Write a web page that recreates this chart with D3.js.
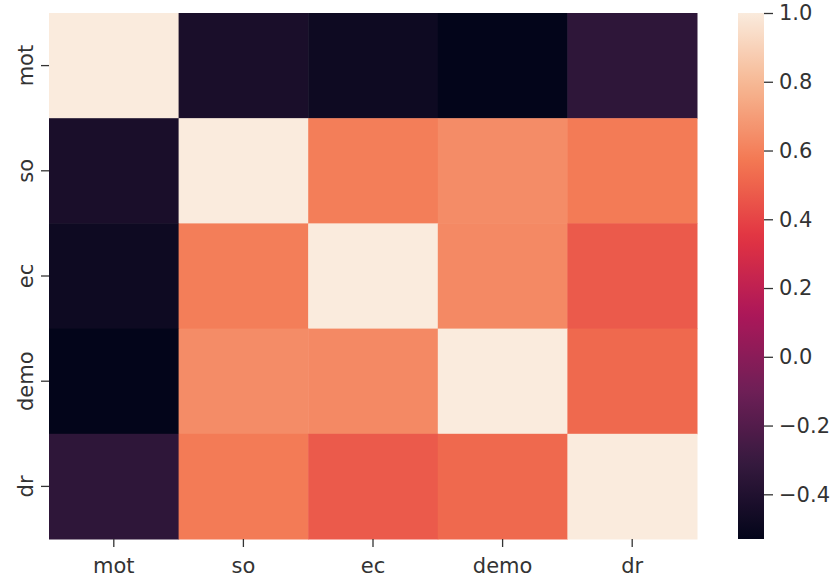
<!DOCTYPE html>
<html>
<head>
<meta charset="utf-8">
<script src="https://cdn.jsdelivr.net/npm/d3@7"></script>
<style>
  body { margin: 0; background: #fff; }
  text { font-family: "DejaVu Sans", sans-serif; }
</style>
</head>
<body>
<div id="chart"></div>
<script>
// Variable names (rows and columns of the correlation matrix)
const labels = ["mot", "so", "ec", "demo", "dr"];

// Correlation values, one array per row
const motRow = [1.0, -0.43, -0.48, -0.53, -0.34];
const soRow = [-0.43, 1.0, 0.59, 0.64, 0.58];
const ecRow = [-0.48, 0.59, 1.0, 0.63, 0.47];
const demoRow = [-0.53, 0.64, 0.63, 1.0, 0.52];
const drRow = [-0.34, 0.58, 0.47, 0.52, 1.0];
const matrix = [motRow, soRow, ecRow, demoRow, drRow];

// Colorbar tick values
const cbarTicks = [1.0, 0.8, 0.6, 0.4, 0.2, 0.0, -0.2, -0.4];

// seaborn "rocket" colormap anchors
const rocketStops = ["#03051a", "#35193e", "#701f57", "#ad1759", "#e13342", "#f37651", "#f6b48f", "#faebdd"];

const width = 840, height = 584;
const margin = { top: 13, left: 49 };
const heatW = 648, heatH = 526;

const svg = d3.select("#chart")
  .append("svg")
  .attr("width", width)
  .attr("height", height);

// Flatten the matrix into cells
const cells = [];
matrix.forEach((row, i) => {
  row.forEach((v, j) => cells.push({ row: labels[i], col: labels[j], value: v }));
});

const vmin = d3.min(cells, d => d.value);
const vmax = d3.max(cells, d => d.value);

const rocket = d3.scaleLinear()
  .domain(rocketStops.map((_, i) => i / (rocketStops.length - 1)))
  .range(rocketStops)
  .interpolate(d3.interpolateRgb);

const color = v => rocket((v - vmin) / (vmax - vmin));

const x = d3.scaleBand().domain(labels).range([margin.left, margin.left + heatW]);
const y = d3.scaleBand().domain(labels).range([margin.top, margin.top + heatH]);

// Heatmap cells
svg.append("g")
  .selectAll("rect")
  .data(cells)
  .enter()
  .append("rect")
  .attr("x", d => x(d.col))
  .attr("y", d => y(d.row))
  .attr("width", x.bandwidth() + 0.5)
  .attr("height", y.bandwidth() + 0.5)
  .attr("fill", d => color(d.value));

const fontSize = 21;
const textColor = "#333";

// X axis
const xAxis = svg.append("g")
  .attr("transform", `translate(0,${margin.top + heatH})`)
  .call(d3.axisBottom(x).tickSize(8).tickPadding(11));
xAxis.select(".domain").remove();
xAxis.selectAll("line").attr("stroke", textColor).attr("stroke-width", 1.3);
xAxis.selectAll("text")
  .attr("font-size", fontSize)
  .attr("font-family", "DejaVu Sans")
  .attr("fill", textColor);

// Y axis with rotated labels
const yAxis = svg.append("g")
  .attr("transform", `translate(${margin.left},0)`)
  .call(d3.axisLeft(y).tickSize(8));
yAxis.select(".domain").remove();
yAxis.selectAll("line").attr("stroke", textColor).attr("stroke-width", 1.3);
yAxis.selectAll("text")
  .attr("x", null)
  .attr("dy", null)
  .attr("text-anchor", "middle")
  .attr("transform", "translate(-16,0) rotate(-90)")
  .attr("font-size", fontSize)
  .attr("font-family", "DejaVu Sans")
  .attr("fill", textColor);

// Colorbar
const cbX = 738, cbW = 26;
const cbScale = d3.scaleLinear().domain([vmin, vmax]).range([margin.top + heatH, margin.top]);

const defs = svg.append("defs");
const grad = defs.append("linearGradient")
  .attr("id", "cbar")
  .attr("x1", 0).attr("y1", 1).attr("x2", 0).attr("y2", 0);
d3.range(0, 1.0001, 0.02).forEach(t => {
  grad.append("stop")
    .attr("offset", t)
    .attr("stop-color", rocket(t));
});

svg.append("rect")
  .attr("x", cbX)
  .attr("y", margin.top)
  .attr("width", cbW)
  .attr("height", heatH)
  .attr("fill", "url(#cbar)");

const cbAxis = svg.append("g")
  .attr("transform", `translate(${cbX + cbW},0)`)
  .call(d3.axisRight(cbScale)
    .tickValues(cbarTicks)
    .tickSize(9)
    .tickPadding(6)
    .tickFormat(d => d3.format(".1f")(d).replace("-", "\u2212")));
cbAxis.select(".domain").remove();
cbAxis.selectAll("line").attr("stroke", textColor).attr("stroke-width", 1.3);
cbAxis.selectAll("text")
  .attr("font-size", fontSize)
  .attr("font-family", "DejaVu Sans")
  .attr("fill", textColor);
</script>
</body>
</html>
